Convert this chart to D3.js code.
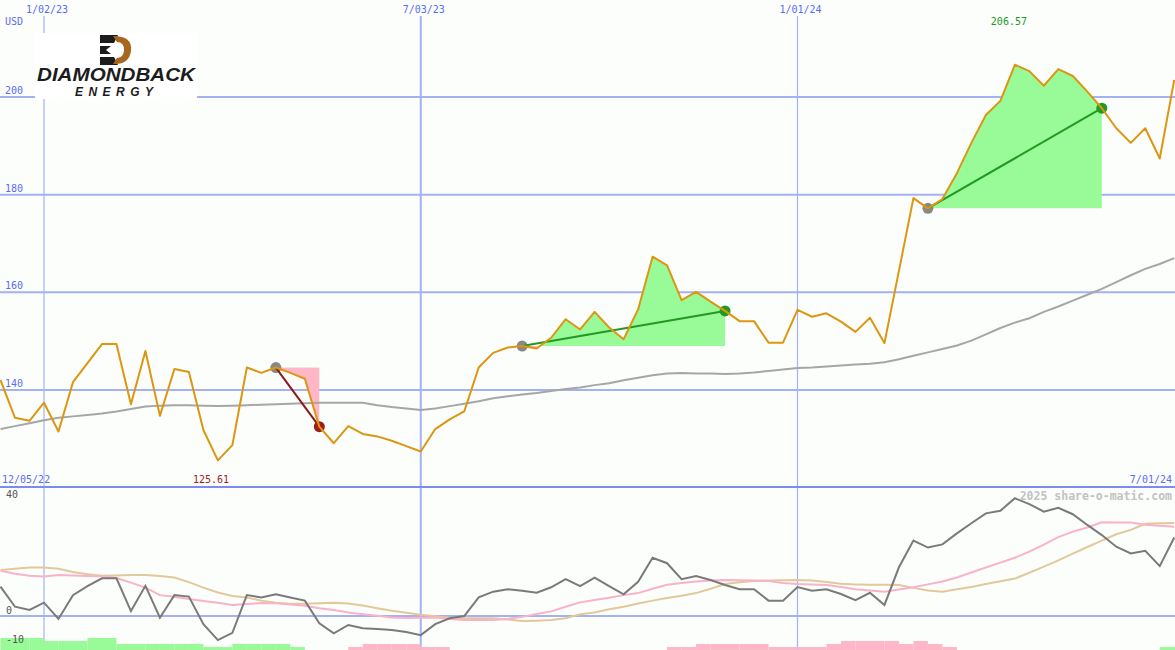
<!DOCTYPE html>
<html>
<head>
<meta charset="utf-8">
<script src="https://cdn.jsdelivr.net/npm/d3@7"></script>
<style>
  body { margin: 0; background: #fbfefb; }
  svg { display: block; }
  text { font-family: "DejaVu Sans Mono", monospace; font-size: 10px; }
</style>
</head>
<body>
<div id="chart"></div>
<script>
// weekly closes, one per Monday from 12/12/22 to 7/01/24
const weeks = d3.utcMonday.range(new Date(Date.UTC(2022, 11, 12)), new Date(Date.UTC(2024, 6, 2)))

const price = [
  142.0, 134.3, 133.7, 137.4, 131.5, 141.6, 145.5, 149.4, 149.4, 137.1,
  148.0, 134.7, 144.3, 143.7, 131.8, 125.6, 128.7, 144.6, 143.5, 144.6,
  143.5, 142.3, 132.5, 129.1, 132.6, 131.0, 130.5, 129.6, 128.5, 127.4,
  132.0, 134.0, 135.6, 144.6, 147.6, 148.7, 149.0, 148.5, 150.7, 154.5,
  152.4, 156.0, 152.8, 150.4, 156.5, 167.3, 165.5, 158.4, 160.1, 158.1,
  156.2, 154.1, 154.1, 149.7, 149.7, 156.4, 155.0, 155.7, 154.0, 151.9,
  154.8, 149.6, 164.4, 179.3, 177.2, 179.1, 184.4, 190.6, 196.3, 199.2,
  206.6, 205.3, 202.3, 205.7, 204.3, 201.1, 197.7, 193.6, 190.6, 193.6,
  187.4, 203.5
]

const movingAvg = [
  132.0, 132.6, 133.2, 133.8, 134.3, 134.6, 134.9, 135.2, 135.6, 136.1,
  136.6, 136.8, 136.9, 136.9, 136.8, 136.7, 136.8, 136.9, 137.0, 137.1,
  137.2, 137.3, 137.4, 137.4, 137.4, 137.4, 136.9, 136.5, 136.2, 135.9,
  136.2, 136.7, 137.2, 137.7, 138.3, 138.7, 139.1, 139.4, 139.8, 140.2,
  140.5, 141.0, 141.4, 142.0, 142.5, 143.0, 143.4, 143.5, 143.4, 143.4,
  143.3, 143.4, 143.6, 143.9, 144.2, 144.5, 144.6, 144.8, 145.0, 145.2,
  145.4, 145.7, 146.3, 147.0, 147.7, 148.4, 149.1, 150.1, 151.4, 152.7,
  153.8, 154.7, 156.0, 157.1, 158.3, 159.5, 160.7, 162.1, 163.5, 164.8,
  165.8, 167.0
]

// lower panel
const oscillator = [
  10.1, 3.2, 2.1, 4.6, -1.0, 7.2, 10.3, 13.0, 13.0, 1.7,
  10.4, -0.6, 7.2, 6.7, -2.8, -8.3, -5.8, 7.2, 6.4, 7.5,
  6.4, 5.3, -2.5, -6.0, -3.1, -4.2, -4.5, -4.8, -5.5, -6.6,
  -2.8, -0.8, 0.0, 6.4, 8.4, 9.2, 8.7, 8.0, 9.9, 12.7,
  10.3, 13.2, 10.3, 7.5, 11.8, 20.1, 18.2, 12.7, 13.8, 12.4,
  10.7, 9.2, 9.2, 5.3, 5.3, 10.0, 8.7, 9.2, 7.6, 5.5,
  8.0, 3.8, 16.8, 26.0, 23.6, 24.7, 28.5, 32.0, 35.4, 36.3,
  40.6, 38.6, 36.0, 37.3, 35.1, 31.4, 27.9, 23.9, 21.6, 22.5,
  17.2, 27.1
]

const signalFast = [
  15.6, 14.6, 13.9, 13.6, 14.1, 14.0, 13.8, 13.7, 13.1, 11.5,
  9.8, 7.2, 6.6, 5.9, 5.2, 4.6, 3.8, 4.1, 4.5, 4.4,
  4.0, 3.5, 2.7, 2.1, 1.2, 0.6, 0.1, -0.5, -0.7, -0.6,
  -0.5, -1.0, -1.4, -1.4, -1.4, -1.0, -0.3, 0.7, 1.6, 3.2,
  4.7, 5.5, 6.3, 7.2, 7.9, 9.4, 10.8, 11.4, 11.9, 12.2,
  12.4, 12.3, 12.2, 12.1, 11.4, 11.0, 10.9, 10.7, 10.0, 9.2,
  8.8, 8.4, 9.1, 9.9, 10.9, 11.9, 13.3, 15.0, 16.7, 18.4,
  20.1, 22.2, 24.6, 27.2, 29.1, 30.5, 32.3, 32.2, 32.2, 31.5,
  31.1, 30.8
]

const signalSlow = [
  15.9, 16.3, 16.7, 16.7, 16.3, 15.2, 14.4, 13.9, 14.0, 14.1,
  14.1, 13.8, 13.3, 11.7, 9.8, 8.1, 6.9, 6.4, 5.3, 4.6,
  4.2, 4.2, 4.4, 4.6, 4.3, 3.6, 2.7, 1.8, 1.1, 0.4,
  -0.1, -0.6, -0.8, -0.8, -0.8, -1.2, -1.7, -1.6, -1.4, -0.8,
  0.6, 1.2, 2.3, 3.2, 4.3, 5.3, 6.2, 7.0, 7.9, 9.4,
  11.0, 11.6, 12.1, 12.2, 12.3, 12.4, 12.2, 11.7, 11.1, 10.9,
  10.8, 10.8, 10.7, 9.7, 8.8, 8.4, 9.2, 10.0, 11.0, 12.0,
  12.9, 14.9, 17.0, 19.2, 21.5, 23.8, 26.0, 28.2, 29.7, 31.8,
  32.0, 32.1
]

// bottom strip, + is green, - is pink
const strip = [
  4, 4, 4, 3, 3, 3, 4, 4, 2, 2,
  2, 2, 2, 2, 1, 1, 2, 2, 2, 2,
  1, 0, 0, 0, -1, -2, -2, -2, -2, -1,
  -1, 0, 0, 0, 0, 0, 0, 0, 0, 0,
  0, 0, 0, 0, 0, 0, -1, -1, -2, -2,
  -2, -2, -2, -1, -1, -1, -1, -2, -3, -3,
  -3, -3, -2, -3, -2, -1, 0, 0, 0, 0,
  0, 0, 0, 0, 0, 0, 0, 0, 0, 0,
  1, 0
]

const trades = [
  { entry: 19, exit: 22 },
  { entry: 36, exit: 50 },
  { entry: 64, exit: 76 }
]

const dateTicks = [new Date(Date.UTC(2023, 0, 2)), new Date(Date.UTC(2023, 6, 3)), new Date(Date.UTC(2024, 0, 1))]
const dateTickLabels = ['1/02/23', '7/03/23', '1/01/24']
const rangeLabels = ['12/05/22', '7/01/24']
const priceTicks = [200, 180, 160, 140]
const lowerTicks = [40, 0, -10]
const lowLabel = '125.61'
const highLabel = '206.57'

const layout = { width: 1175, height: 650, split: 487, bottom: 650 }

const colors = {
  grid: '#a4b2f2',
  split: '#7b8cee',
  label: '#5b6cf2',
  price: '#dc9612',
  avg: '#a6a6a6',
  osc: '#7a7a7a',
  fast: '#f9b2c9',
  slow: '#e2c99b',
  up: '#98fb98',
  down: '#ffb6c6',
  gain: '#229922',
  loss: '#a01c1c',
  entry: '#888888'
}

const x = d3.scaleUtc()
  .domain([dateTicks[0], dateTicks[2]])
  .range([44, 797.5])
const y = d3.scaleLinear().domain([140, 200]).range([390, 97])
const yLow = d3.scaleLinear().domain([0, 40]).range([616, 500])
const yStrip = d3.scaleLinear().domain([0, 4]).range([layout.bottom, 638])

const svg = d3.select('#chart').append('svg')
  .attr('width', layout.width)
  .attr('height', layout.height)

svg.append('rect')
  .attr('width', layout.width).attr('height', layout.height)
  .attr('fill', '#fbfefb')

const defs = svg.append('defs')

// grid
svg.selectAll('line.hgrid')
  .data(priceTicks)
  .join('line')
  .attr('class', 'hgrid')
  .attr('x1', 0).attr('x2', layout.width)
  .attr('y1', d => y(d)).attr('y2', d => y(d))
  .attr('stroke', colors.grid).attr('stroke-width', 2)

svg.append('line')
  .attr('x1', 0).attr('x2', layout.width)
  .attr('y1', yLow(0)).attr('y2', yLow(0))
  .attr('stroke', colors.grid).attr('stroke-width', 2)

svg.selectAll('line.vgrid')
  .data(dateTicks)
  .join('line')
  .attr('class', 'vgrid')
  .attr('x1', d => x(d)).attr('x2', d => x(d))
  .attr('y1', 16).attr('y2', layout.bottom)
  .attr('stroke', colors.grid)
  .attr('stroke-width', (d, i) => i === 1 ? 2 : 1.2)

svg.append('line')
  .attr('x1', 0).attr('x2', layout.width)
  .attr('y1', layout.split).attr('y2', layout.split)
  .attr('stroke', colors.split).attr('stroke-width', 2)

// trade fills: green above the entry price, pink below it
trades.forEach((t, k) => {
  const idx = d3.range(t.entry, t.exit + 1)
  const base = y(price[t.entry])
  const area = d3.area()
    .x(i => x(weeks[i]))
    .y0(base)
    .y1(i => y(price[i]))

  defs.append('clipPath').attr('id', `above${k}`)
    .append('rect').attr('x', 0).attr('y', 0)
    .attr('width', layout.width).attr('height', base)
  defs.append('clipPath').attr('id', `below${k}`)
    .append('rect').attr('x', 0).attr('y', base)
    .attr('width', layout.width).attr('height', layout.split - base)

  svg.append('path').attr('d', area(idx))
    .attr('fill', colors.up).attr('clip-path', `url(#above${k})`)
  svg.append('path').attr('d', area(idx))
    .attr('fill', colors.down).attr('clip-path', `url(#below${k})`)
})

const line = (vals, ys) => d3.line()
  .x((d, i) => x(weeks[i]))
  .y(d => ys(d))(vals)

svg.append('path')
  .attr('d', line(movingAvg, y))
  .attr('fill', 'none').attr('stroke', colors.avg).attr('stroke-width', 2)

// trades: entry dot, connecting line, exit dot
trades.forEach(t => {
  const gain = price[t.exit] > price[t.entry]
  const p0 = [x(weeks[t.entry]), y(price[t.entry])]
  const p1 = [x(weeks[t.exit]), y(price[t.exit])]
  svg.append('circle').attr('cx', p0[0]).attr('cy', p0[1]).attr('r', 5.5)
    .attr('fill', colors.entry)
  svg.append('line')
    .attr('x1', p0[0]).attr('y1', p0[1]).attr('x2', p1[0]).attr('y2', p1[1])
    .attr('stroke', gain ? colors.gain : '#8b1a1a').attr('stroke-width', 2)
  svg.append('circle').attr('cx', p1[0]).attr('cy', p1[1]).attr('r', 5.5)
    .attr('fill', gain ? colors.gain : colors.loss)
})

svg.append('path')
  .attr('d', line(price, y))
  .attr('fill', 'none').attr('stroke', colors.price).attr('stroke-width', 2)
  .attr('stroke-linejoin', 'round')

// lower panel
svg.selectAll('rect.strip')
  .data(strip.slice(0, -1))
  .join('rect')
  .attr('class', 'strip')
  .attr('x', (d, i) => x(weeks[i]))
  .attr('width', (d, i) => x(weeks[i + 1]) - x(weeks[i]) + (i === strip.length - 2 ? 2 : 0))
  .attr('y', d => yStrip(Math.abs(d)))
  .attr('height', d => layout.bottom - yStrip(Math.abs(d)))
  .attr('fill', d => d > 0 ? colors.up : colors.down)

svg.append('path')
  .attr('d', line(signalSlow, yLow))
  .attr('fill', 'none').attr('stroke', colors.slow).attr('stroke-width', 2)
svg.append('path')
  .attr('d', line(signalFast, yLow))
  .attr('fill', 'none').attr('stroke', colors.fast).attr('stroke-width', 2)
svg.append('path')
  .attr('d', line(oscillator, yLow))
  .attr('fill', 'none').attr('stroke', colors.osc).attr('stroke-width', 2)

// labels
svg.selectAll('text.date')
  .data(dateTicks)
  .join('text')
  .attr('class', 'date')
  .attr('x', d => x(d) + 3).attr('y', 13)
  .attr('text-anchor', 'middle')
  .attr('fill', colors.label)
  .text((d, i) => dateTickLabels[i])

svg.append('text').attr('x', 5).attr('y', 25).attr('fill', colors.label).text('USD')

svg.selectAll('text.price')
  .data(priceTicks)
  .join('text')
  .attr('class', 'price')
  .attr('x', 5).attr('y', d => y(d) - 3)
  .attr('fill', colors.label)
  .text(d => d)

svg.append('text').attr('x', 2).attr('y', 483).attr('fill', colors.label).text(rangeLabels[0])
svg.append('text').attr('x', 1172).attr('y', 483).attr('text-anchor', 'end')
  .attr('fill', colors.label).text(rangeLabels[1])

const lo = d3.minIndex(price)
const hi = d3.maxIndex(price)
svg.append('text').attr('x', x(weeks[lo]) - 25).attr('y', 483)
  .attr('fill', colors.loss).text(lowLabel)
svg.append('text').attr('x', x(weeks[hi]) - 24).attr('y', 25)
  .attr('fill', colors.gain).text(highLabel)

svg.selectAll('text.lower')
  .data(lowerTicks)
  .join('text')
  .attr('class', 'lower')
  .attr('x', 6).attr('y', d => yLow(d) - 2)
  .attr('fill', '#555')
  .text(d => d)

svg.append('text')
  .attr('x', 1172).attr('y', 500)
  .attr('text-anchor', 'end')
  .attr('fill', '#c2c2c2')
  .style('font-size', '11.5px').style('font-weight', 'bold')
  .text('2025 share-o-matic.com')

// logo
const logo = svg.append('g')
logo.append('rect').attr('x', 35).attr('y', 33).attr('width', 162).attr('height', 66).attr('fill', '#ffffff')
const stripes = [
  [[100, 35], [118, 35], [114, 43], [100, 43]],
  [[100, 46], [111, 46], [106, 50], [111, 54], [100, 54]],
  [[100, 57], [114, 57], [118, 65], [100, 65]]
]
logo.selectAll('polygon')
  .data(stripes)
  .join('polygon')
  .attr('points', d => d.join(' '))
  .attr('fill', '#1c1c1c')
logo.append('path')
  .attr('d', 'M113,36 Q133,36 131,51 Q129,65 113,64 L117,58 Q124,57 124,50 Q124,42 117,42 Z')
  .attr('fill', '#a8651e')
logo.append('text')
  .attr('x', 37).attr('y', 81)
  .attr('textLength', 158).attr('lengthAdjust', 'spacingAndGlyphs')
  .style('font-family', '"Liberation Sans", Arial, sans-serif')
  .style('font-size', '18px').style('font-weight', 'bold').style('font-style', 'italic')
  .attr('fill', '#1c1c1c')
  .text('DIAMONDBACK')
logo.append('text')
  .attr('x', 75).attr('y', 96)
  .attr('textLength', 78).attr('lengthAdjust', 'spacing')
  .style('font-family', '"Liberation Sans", Arial, sans-serif')
  .style('font-size', '12px').style('font-weight', 'bold').style('font-style', 'italic')
  .attr('fill', '#1c1c1c')
  .text('ENERGY')
</script>
</body>
</html>
